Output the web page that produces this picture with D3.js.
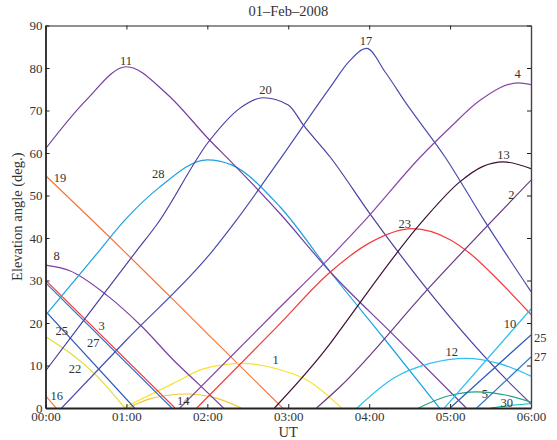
<!DOCTYPE html>
<html>
<head>
<meta charset="utf-8">
<script src="https://cdn.jsdelivr.net/npm/d3@7"></script>
<style>
  html, body { margin: 0; padding: 0; background: #fff; }
  svg { display: block; font-family: "Liberation Serif", "Times New Roman", serif; }
</style>
</head>
<body>
<svg id="chart" width="557" height="440"></svg>
<script>
// Elevation tracks per satellite (PRN): [hours UT, elevation deg]
const prn11 = [[0,61],[0.5,72.4],[1.0,80.3],[1.5,73.9],[2.03,63],[2.3,57.8],[2.9,45.7],[3.52,32],[4.3,17.2],[5.2,0]];
const prn20 = [[0,8.7],[0.5,21.3],[1.13,37.1],[1.37,43],[2.03,63],[2.4,70.5],[2.69,73],[3.0,71.3],[3.19,66.5],[3.52,59],[4.01,45.7],[4.79,26.2],[5.7,6.6],[6,1]];
const prn17 = [[0.2,0],[1.0,16],[2.07,37.1],[2.36,44.2],[2.86,57.5],[3.52,75.5],[3.75,81.5],[3.97,84.6],[4.2,79],[4.46,71.6],[4.94,59],[5.42,44.2],[6,27.4]];
const prn28 = [[0,21.8],[0.67,37.1],[0.98,44.2],[1.4,51.8],[2.0,58.4],[2.3,57.2],[2.9,47.3],[3.52,32],[4.2,16],[4.87,0]];
const prn19 = [[0,54.7],[0.96,37.1],[1.54,26.2],[2.0,17.5],[2.93,0]];
const prn16 = [[0,2.9],[0.13,0]];
const prn8  = [[0,33.6],[0.3,32.3],[0.76,26.5],[1.2,19],[1.58,11.3],[1.9,5.5],[2.2,0]];
const prn3a = [[0,30.1],[1.6,0]];
const prn27a = [[0,29.5],[1.56,0]];
const prn25a = [[0,22.8],[1.1,0]];
const prn22 = [[0,16.8],[0.63,7.6],[0.98,0]];
const prn14 = [[1.02,0],[1.3,2.2],[1.74,3.3],[2.1,2.4],[2.42,0]];
const prn1  = [[0.96,0],[1.58,5.8],[1.95,9.2],[2.44,10.5],[2.9,9],[3.23,6.6],[3.66,0]];
const prn4  = [[1.66,0],[2.86,23],[3.52,35.5],[3.95,44.2],[4.63,59],[5.0,66],[5.37,72.4],[5.84,76.5],[6,76.1]];
const prn23 = [[1.87,0],[2.86,19.1],[3.52,32],[4.0,38.8],[4.53,42.2],[5.0,39.6],[5.25,36.3],[5.6,30],[6,22]];
const prn13 = [[2.83,0],[3.52,15.2],[3.64,18.3],[4.67,44.2],[5.12,53.2],[5.4,56.8],[5.66,57.9],[6,56.3]];
const prn2  = [[3.35,0],[3.64,5],[4.75,28.5],[6,53.6]];
const prn12 = [[3.85,0],[4.3,7],[4.75,10.5],[5.2,11.7],[5.6,10.5],[6,7.5]];
const prn5  = [[4.61,0],[4.95,2.7],[5.33,3.8],[5.7,3.0],[6,1.4]];
const prn30 = [[5.5,0],[5.8,0.7],[6,1.0]];
const prn10 = [[4.93,0],[6,23.3]];
const prn25b = [[5.0,0],[6,17.2]];
const prn27b = [[5.33,0],[6,12]];

// Axis ticks
const xTickValues = [0,1,2,3,4,5,6];
const xTickLabels = ["00:00","01:00","02:00","03:00","04:00","05:00","06:00"];
const yTickValues = [0,10,20,30,40,50,60,70,80,90];

// Track labels: [text, hours, elevation]
const labelText = ["11","20","28","19","17","4","13","2","23","10","25","27","12","5","30","8","25","3","27","22","16","14","1"];
const labelT    = [0.995,2.72,1.394,0.18,3.96,5.835,5.66,5.756,4.44,5.74,6.115,6.115,5.02,5.43,5.70,0.138,0.2,0.695,0.59,0.365,0.138,1.703,2.845];
const labelE    = [81.8,74.9,55.1,54.3,86.5,78.6,59.6,50.2,43.5,19.9,16.6,12.05,13.2,3.45,1.25,35.9,18.3,19.5,15.4,9.3,2.9,1.7,11.3];

const tracks = [
  { pts: prn19, color: "#f7763a" },
  { pts: prn16, color: "#f7843a" },
  { pts: prn22, color: "#dede34" },
  { pts: prn14, color: "#f2c838" },
  { pts: prn1,  color: "#f9e230" },
  { pts: prn25a, color: "#2a58b6" },
  { pts: prn27a, color: "#2a72ca" },
  { pts: prn3a, color: "#f23c3c" },
  { pts: prn8,  color: "#7a3fa6" },
  { pts: prn28, color: "#1aa2e0" },
  { pts: prn11, color: "#7340a2" },
  { pts: prn20, color: "#4b3f9f" },
  { pts: prn17, color: "#4a4cb0" },
  { pts: prn4,  color: "#8a45a8" },
  { pts: prn23, color: "#f53a3a" },
  { pts: prn13, color: "#3b0f35" },
  { pts: prn2,  color: "#6b3a83" },
  { pts: prn12, color: "#2cc0f0" },
  { pts: prn5,  color: "#22a084" },
  { pts: prn30, color: "#10b8c0" },
  { pts: prn10, color: "#2cc0f0" },
  { pts: prn25b, color: "#2a58b6" },
  { pts: prn27b, color: "#2a72ca" }
];

const svg = d3.select("#chart");
const plotLeft = 45.5, plotRight = 531, plotTop = 25.5, plotBottom = 408;

const x = d3.scaleLinear().domain([0, 6]).range([plotLeft, plotRight]);
const y = d3.scaleLinear().domain([0, 90]).range([plotBottom, plotTop]);

svg.append("defs").append("clipPath").attr("id", "plotClip")
  .append("rect").attr("x", plotLeft).attr("y", plotTop - 1)
  .attr("width", plotRight - plotLeft).attr("height", plotBottom - plotTop + 1);

const line = d3.line()
  .x(d => x(d[0]))
  .y(d => y(d[1]))
  .curve(d3.curveMonotoneX);

const plot = svg.append("g").attr("clip-path", "url(#plotClip)");
plot.selectAll("path.track")
  .data(tracks)
  .join("path")
  .attr("class", "track")
  .attr("d", d => line(d.pts))
  .attr("fill", "none")
  .attr("stroke", d => d.color)
  .attr("stroke-width", 1.2);

// Axes with inward ticks on all four sides
const fmt = d => xTickLabels[xTickValues.indexOf(d)];
const gx = svg.append("g").attr("transform", `translate(0,${plotBottom})`)
  .call(d3.axisBottom(x).tickValues(xTickValues).tickFormat(fmt).tickSizeInner(-4).tickSizeOuter(0).tickPadding(4));
const gxTop = svg.append("g").attr("transform", `translate(0,${plotTop})`)
  .call(d3.axisTop(x).tickValues(xTickValues).tickFormat("").tickSizeInner(-4).tickSizeOuter(0));
const gy = svg.append("g").attr("transform", `translate(${plotLeft},0)`)
  .call(d3.axisLeft(y).tickValues(yTickValues).tickSizeInner(-4).tickSizeOuter(0).tickPadding(3));
const gyRight = svg.append("g").attr("transform", `translate(${plotRight},0)`)
  .call(d3.axisRight(y).tickValues(yTickValues).tickFormat("").tickSizeInner(-4).tickSizeOuter(0));

[gx, gxTop, gy, gyRight].forEach(g => {
  g.selectAll("path.domain").attr("stroke", "#222");
  g.selectAll(".tick line").attr("stroke", "#222");
  g.selectAll(".tick text")
    .attr("font-family", "Liberation Serif, serif")
    .attr("font-size", 13)
    .attr("fill", "#333");
});
gx.select("path.domain").attr("stroke-width", 1.8);
gy.select("path.domain").attr("stroke-width", 1.8);
gxTop.select("path.domain").attr("stroke-width", 1.2);
gyRight.select("path.domain").attr("stroke-width", 1.4).attr("stroke", "#444");

// Track labels
svg.append("g").selectAll("text")
  .data(labelText.map((t, i) => ({ t, h: labelT[i], e: labelE[i] })))
  .join("text")
  .attr("x", d => x(d.h))
  .attr("y", d => y(d.e))
  .attr("dy", "0.35em")
  .attr("text-anchor", "middle")
  .attr("font-size", 12.5)
  .attr("fill", "#333")
  .text(d => d.t);

// Title and axis labels
svg.append("text")
  .attr("x", (plotLeft + plotRight) / 2).attr("y", 15.5)
  .attr("text-anchor", "middle")
  .attr("font-size", 14.5).attr("fill", "#333")
  .text("01\u2013Feb\u20132008");

svg.append("text")
  .attr("x", (plotLeft + plotRight) / 2).attr("y", 436.5)
  .attr("text-anchor", "middle")
  .attr("font-size", 14.5).attr("fill", "#333")
  .text("UT");

svg.append("text")
  .attr("transform", `translate(22,${(plotTop + plotBottom) / 2}) rotate(-90)`)
  .attr("text-anchor", "middle")
  .attr("font-size", 14.5).attr("fill", "#333")
  .text("Elevation angle (deg.)");
</script>
</body>
</html>
